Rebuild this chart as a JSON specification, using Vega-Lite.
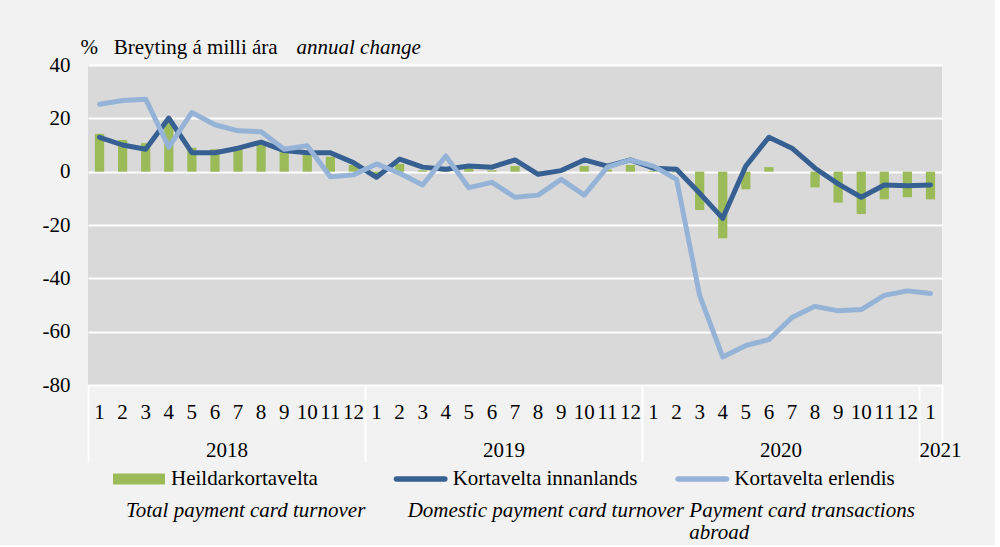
{
  "$schema": "https://vega.github.io/schema/vega-lite/v6.json",
  "background": "#f2f2f2",
  "padding": {"left": 42, "top": 36, "right": 34, "bottom": 2},
  "config": {
    "font": "Liberation Serif",
    "view": {"stroke": null},
    "axis": {"labelFont": "Liberation Serif", "labelColor": "black", "titleFont": "Liberation Serif", "titleColor": "black", "titleFontWeight": "normal"},
    "text": {"font": "Liberation Serif", "color": "black"}
  },
  "datasets": {
    "main": [
      {"ym": "2018-01", "heild": 14.2, "innan": 12.9, "erl": 25.3},
      {"ym": "2018-02", "heild": 11.9, "innan": 10.0, "erl": 26.7},
      {"ym": "2018-03", "heild": 10.7, "innan": 8.4, "erl": 27.2},
      {"ym": "2018-04", "heild": 18.2, "innan": 20.1, "erl": 9.2},
      {"ym": "2018-05", "heild": 9.0, "innan": 7.1, "erl": 22.2},
      {"ym": "2018-06", "heild": 8.4, "innan": 7.1, "erl": 17.6},
      {"ym": "2018-07", "heild": 8.8, "innan": 8.8, "erl": 15.3},
      {"ym": "2018-08", "heild": 10.1, "innan": 11.1, "erl": 15.0},
      {"ym": "2018-09", "heild": 8.2, "innan": 7.9, "erl": 8.4},
      {"ym": "2018-10", "heild": 7.6, "innan": 7.1, "erl": 9.7},
      {"ym": "2018-11", "heild": 5.6, "innan": 7.1, "erl": -1.9},
      {"ym": "2018-12", "heild": 2.5, "innan": 3.4, "erl": -1.2},
      {"ym": "2019-01", "heild": -1.0, "innan": -2.1, "erl": 2.9},
      {"ym": "2019-02", "heild": 2.9, "innan": 4.7, "erl": -0.6},
      {"ym": "2019-03", "heild": 0.5, "innan": 1.7, "erl": -5.0},
      {"ym": "2019-04", "heild": 0.3, "innan": 0.9, "erl": 5.9},
      {"ym": "2019-05", "heild": 1.8, "innan": 2.1, "erl": -6.0},
      {"ym": "2019-06", "heild": 0.5, "innan": 1.7, "erl": -4.0},
      {"ym": "2019-07", "heild": 2.1, "innan": 4.4, "erl": -9.6},
      {"ym": "2019-08", "heild": -1.2, "innan": -1.0, "erl": -8.8},
      {"ym": "2019-09", "heild": 0.3, "innan": 0.4, "erl": -2.9},
      {"ym": "2019-10", "heild": 2.1, "innan": 4.4, "erl": -8.8},
      {"ym": "2019-11", "heild": 0.8, "innan": 2.1, "erl": 1.7},
      {"ym": "2019-12", "heild": 2.5, "innan": 4.4, "erl": 4.4},
      {"ym": "2020-01", "heild": 0.3, "innan": 1.3, "erl": 2.1},
      {"ym": "2020-02", "heild": -0.3, "innan": 0.9, "erl": -2.9},
      {"ym": "2020-03", "heild": -14.4, "innan": -8.1, "erl": -46.4},
      {"ym": "2020-04", "heild": -25.0, "innan": -17.5, "erl": -69.5},
      {"ym": "2020-05", "heild": -6.6, "innan": 2.1, "erl": -65.2},
      {"ym": "2020-06", "heild": 1.7, "innan": 12.9, "erl": -63.0},
      {"ym": "2020-07", "heild": 0.0, "innan": 8.8, "erl": -54.7},
      {"ym": "2020-08", "heild": -5.9, "innan": 1.3, "erl": -50.5},
      {"ym": "2020-09", "heild": -11.6, "innan": -4.6, "erl": -52.2},
      {"ym": "2020-10", "heild": -15.9, "innan": -9.6, "erl": -51.7},
      {"ym": "2020-11", "heild": -10.4, "innan": -5.0, "erl": -46.4},
      {"ym": "2020-12", "heild": -9.6, "innan": -5.3, "erl": -44.7},
      {"ym": "2021-01", "heild": -10.4, "innan": -5.0, "erl": -45.7}
    ],
    "legend": [
      {"series": "Heildarkortavelta", "english": "Total payment card turnover"},
      {"series": "Kortavelta innanlands", "english": "Domestic payment card turnover"},
      {"series": "Kortavelta erlendis", "english": "Payment card transactions\nabroad"}
    ]
  },
  "bounds": "flush",
  "spacing": 79,
  "vconcat": [
    {
      "width": 854,
      "height": 320,
      "view": {"fill": "#d9d9d9", "stroke": null},
      "data": {"name": "main"},
      "resolve": {"axis": {"x": "independent"}},
      "layer": [
        {
          "mark": {"type": "bar", "width": {"band": 0.4}, "color": "#9bbb59"},
          "encoding": {
            "x": {
              "field": "ym", "type": "ordinal",
              "scale": {"type": "band", "paddingInner": 0, "paddingOuter": 0},
              "axis": {
                "orient": "bottom", "title": null, "domain": false, "ticks": false, "grid": false,
                "labelExpr": "isString(datum.value) ? toNumber(slice(datum.value, 5)) : ''",
                "labelAngle": 0, "labelFontSize": 21, "labelPadding": 16, "labelOverlap": false
              }
            },
            "y": {
              "field": "heild", "type": "quantitative",
              "scale": {"domain": [-80, 40], "nice": false, "zero": false},
              "axis": {
                "title": "%\u00a0\u00a0\u00a0Breyting á milli ára", "titleAngle": 0, "titleAlign": "left", "titleBaseline": "alphabetic",
                "titleX": -8, "titleY": -12, "titleFontSize": 21,
                "values": [-80, -60, -40, -20, 0, 20, 40], "labelExpr": "'' + datum.value", "ticks": false, "domain": false,
                "grid": true, "gridColor": "white", "gridWidth": 2, "labelFontSize": 21, "labelPadding": 18
              }
            }
          }
        },
        {
          "mark": {"type": "line", "color": "#366092", "strokeWidth": 5, "strokeCap": "round", "strokeJoin": "round"},
          "encoding": {
            "x": {
              "field": "ym", "type": "ordinal",
              "scale": {"type": "band", "paddingInner": 0, "paddingOuter": 0},
              "axis": {
                "orient": "bottom", "domain": false, "grid": false,
                "title": "annual change", "titleAngle": 0, "titleAlign": "left", "titleBaseline": "alphabetic",
                "titleX": 208, "titleY": -332, "titleFontSize": 21, "titleFontStyle": "italic",
                "tickBand": "extent", "tickSize": 77, "tickWidth": 2,
                "tickColor": {"condition": {"test": "!isString(datum.value) || datum.value == '2021-01' || indexof(datum.value, '-12') > 0", "value": "white"}, "value": "transparent"},
                "labelExpr": "isString(datum.value) && slice(datum.value, 5) == '07' ? slice(datum.value, 0, 4) : (datum.value == '2021-01' ? '2021' : '')",
                "labelAlign": {"condition": {"test": "datum.value == '2021-01'", "value": "left"}, "value": "center"},
                "labelOffset": -11.54,
                "labelPadding": -23, "labelFontSize": 21, "labelAngle": 0, "labelOverlap": false
              }
            },
            "y": {
              "field": "innan", "type": "quantitative",
              "scale": {"domain": [-80, 40], "nice": false, "zero": false},
              "axis": {
                "title": "%\u00a0\u00a0\u00a0Breyting á milli ára", "titleAngle": 0, "titleAlign": "left", "titleBaseline": "alphabetic",
                "titleX": -8, "titleY": -12, "titleFontSize": 21,
                "values": [-80, -60, -40, -20, 0, 20, 40], "labelExpr": "'' + datum.value", "ticks": false, "domain": false,
                "grid": true, "gridColor": "white", "gridWidth": 2, "labelFontSize": 21, "labelPadding": 18
              }
            }
          }
        },
        {
          "mark": {"type": "line", "color": "#95b3d7", "strokeWidth": 5, "strokeCap": "round", "strokeJoin": "round"},
          "encoding": {
            "x": {
              "field": "ym", "type": "ordinal",
              "scale": {"type": "band", "paddingInner": 0, "paddingOuter": 0},
              "axis": null
            },
            "y": {
              "field": "erl", "type": "quantitative",
              "scale": {"domain": [-80, 40], "nice": false, "zero": false},
              "axis": {
                "title": "%\u00a0\u00a0\u00a0Breyting á milli ára", "titleAngle": 0, "titleAlign": "left", "titleBaseline": "alphabetic",
                "titleX": -8, "titleY": -12, "titleFontSize": 21,
                "values": [-80, -60, -40, -20, 0, 20, 40], "labelExpr": "'' + datum.value", "ticks": false, "domain": false,
                "grid": true, "gridColor": "white", "gridWidth": 2, "labelFontSize": 21, "labelPadding": 18
              }
            }
          }
        }
      ]
    },
    {
      "width": 845,
      "height": 30,
      "data": {"name": "legend"},
      "layer": [
        {
          "mark": {"type": "point", "filled": true, "opacity": 1, "size": 2916, "strokeWidth": 0},
          "encoding": {
            "x": {"field": "series", "type": "nominal", "sort": null, "bandPosition": 0.181,
                  "scale": {"type": "band", "paddingInner": 0, "paddingOuter": 0}, "axis": null},
            "color": {"field": "series", "type": "nominal", "legend": null,
                      "scale": {"domain": ["Heildarkortavelta", "Kortavelta innanlands", "Kortavelta erlendis"],
                                "range": ["#9bbb59", "#366092", "#95b3d7"]}},
            "shape": {"field": "series", "type": "nominal", "legend": null,
                      "scale": {"domain": ["Heildarkortavelta", "Kortavelta innanlands", "Kortavelta erlendis"],
                                "range": ["M-0.963,-0.2H0.963V0.2H-0.963Z",
                                          "M-0.9,-0.1H0.9A0.1,0.1 0 0 1 0.9,0.1H-0.9A0.1,0.1 0 0 1 -0.9,-0.1Z",
                                          "M-0.9,-0.1H0.9A0.1,0.1 0 0 1 0.9,0.1H-0.9A0.1,0.1 0 0 1 -0.9,-0.1Z"]}}
          }
        },
        {
          "mark": {"type": "text", "align": "left", "baseline": "middle", "dx": 32, "fontSize": 21},
          "encoding": {
            "x": {"field": "series", "type": "nominal", "sort": null, "bandPosition": 0.181,
                  "scale": {"type": "band", "paddingInner": 0, "paddingOuter": 0}, "axis": null},
            "text": {"field": "series"}
          }
        },
        {
          "mark": {"type": "text", "align": "left", "baseline": "alphabetic", "dx": -13, "dy": 38, "fontSize": 21,
                   "fontStyle": "italic", "lineBreak": "\n", "lineHeight": 22},
          "encoding": {
            "x": {"field": "series", "type": "nominal", "sort": null, "bandPosition": 0.181,
                  "scale": {"type": "band", "paddingInner": 0, "paddingOuter": 0}, "axis": null},
            "text": {"field": "english"}
          }
        }
      ]
    }
  ]
}
